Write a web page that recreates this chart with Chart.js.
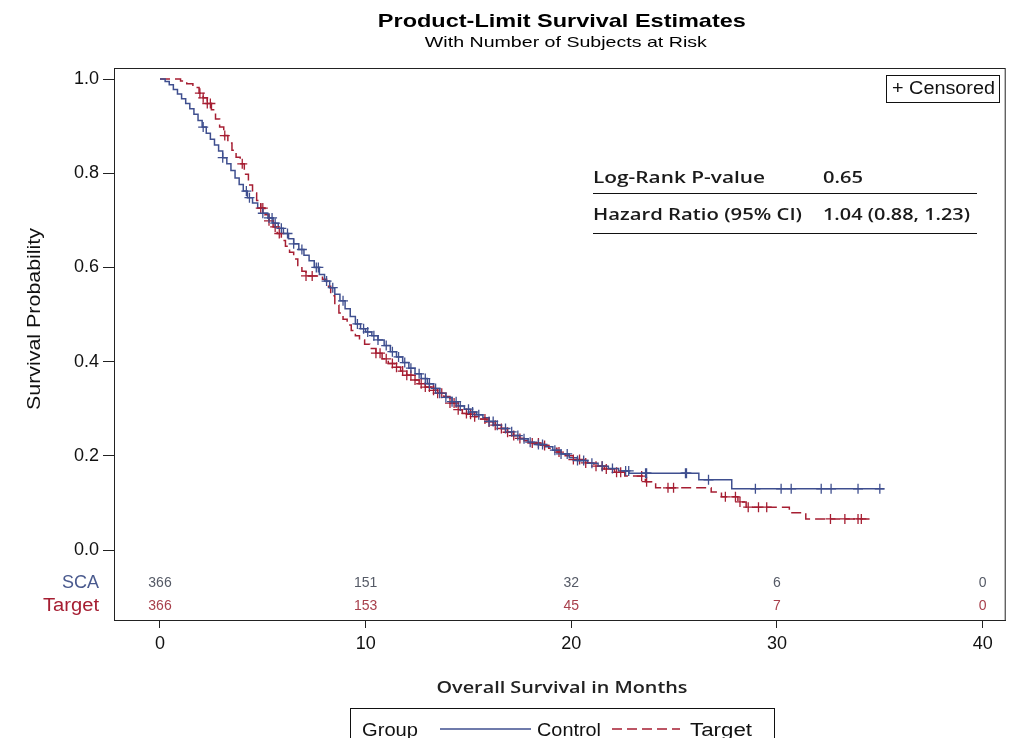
<!DOCTYPE html>
<html>
<head>
<meta charset="utf-8">
<script src="https://cdn.jsdelivr.net/npm/chart.js@4.4.1/dist/chart.umd.min.js"></script>
<style>
  html, body { margin: 0; padding: 0; background: #fff; }
</style>
</head>
<body>
<canvas id="km" width="1012" height="738"></canvas>
<script>
// Kaplan-Meier steps (months, survival)
const ctrlTime = [0, 0.25, 0.45, 0.65, 0.85, 1.05, 1.25, 1.45, 1.65, 1.85, 2.05, 2.25, 2.45, 2.65, 2.85, 3.05, 3.25, 3.45, 3.65, 3.85, 4.05, 4.25, 4.5, 4.75, 5.0, 5.25, 5.5, 5.75, 6.0, 6.25, 6.5, 6.75, 7.0, 7.25, 7.5, 7.75, 8.0, 8.25, 8.5, 8.75, 9.0, 9.25, 9.5, 9.75, 10.0, 10.3, 10.6, 10.9, 11.2, 11.5, 11.8, 12.1, 12.4, 12.7, 13.0, 13.3, 13.6, 13.9, 14.2, 14.5, 14.8, 15.1, 15.4, 15.7, 16.0, 16.3, 16.6, 16.9, 17.2, 17.5, 17.9, 18.3, 18.7, 19.1, 19.5, 19.9, 20.3, 20.8, 21.3, 21.8, 22.3, 22.8, 26.2, 27.8, 35.2];
const ctrlSurv = [1.0, 0.995, 0.988, 0.978, 0.968, 0.958, 0.948, 0.937, 0.925, 0.912, 0.898, 0.885, 0.872, 0.86, 0.847, 0.833, 0.82, 0.806, 0.79, 0.776, 0.762, 0.748, 0.737, 0.726, 0.715, 0.705, 0.694, 0.683, 0.672, 0.661, 0.65, 0.638, 0.626, 0.614, 0.60, 0.585, 0.571, 0.557, 0.543, 0.529, 0.512, 0.496, 0.48, 0.47, 0.463, 0.455, 0.446, 0.434, 0.421, 0.41, 0.398, 0.386, 0.374, 0.364, 0.353, 0.343, 0.333, 0.324, 0.315, 0.306, 0.299, 0.293, 0.287, 0.281, 0.273, 0.265, 0.258, 0.251, 0.243, 0.236, 0.229, 0.224, 0.219, 0.212, 0.204, 0.196, 0.19, 0.184, 0.178, 0.173, 0.168, 0.163, 0.149, 0.13, 0.13];

const tgtTime = [0, 1.0, 1.3, 1.6, 1.9, 2.1, 2.3, 2.5, 2.7, 2.9, 3.1, 3.3, 3.5, 3.7, 3.9, 4.1, 4.3, 4.5, 4.7, 4.9, 5.1, 5.3, 5.5, 5.7, 5.9, 6.1, 6.3, 6.5, 6.7, 6.9, 7.1, 7.9, 8.1, 8.3, 8.5, 8.7, 8.9, 9.1, 9.3, 9.5, 9.7, 9.95, 10.2, 10.5, 10.8, 11.1, 11.4, 11.7, 12.0, 12.3, 12.6, 12.9, 13.2, 13.5, 13.8, 14.1, 14.4, 14.7, 15.0, 15.3, 15.6, 15.9, 16.2, 16.5, 16.8, 17.1, 17.4, 17.7, 18.1, 18.5, 18.9, 19.3, 19.7, 20.1, 20.6, 21.1, 21.6, 22.1, 22.6, 23.6, 24.1, 26.8, 27.3, 28.1, 28.5, 30.6, 31.4, 34.5];
const tgtSurv = [1.0, 0.996, 0.99, 0.982, 0.97, 0.96, 0.948, 0.935, 0.915, 0.898, 0.88, 0.864, 0.849, 0.834, 0.82, 0.798, 0.775, 0.758, 0.742, 0.726, 0.712, 0.699, 0.686, 0.672, 0.657, 0.645, 0.632, 0.618, 0.604, 0.592, 0.582, 0.575, 0.56, 0.54, 0.52, 0.503, 0.49, 0.478, 0.466, 0.455, 0.446, 0.437, 0.428, 0.418, 0.406, 0.396, 0.388, 0.38, 0.371, 0.361, 0.353, 0.346, 0.339, 0.333, 0.326, 0.312, 0.298, 0.29, 0.288, 0.283, 0.278, 0.272, 0.265, 0.258, 0.25, 0.243, 0.237, 0.232, 0.227, 0.222, 0.216, 0.208, 0.2, 0.192, 0.185, 0.178, 0.172, 0.165, 0.157, 0.145, 0.132, 0.123, 0.113, 0.102, 0.091, 0.079, 0.066, 0.066];

// censoring times
const ctrlCens = [2.1, 3.05, 4.2, 4.35, 5.0, 5.3, 5.45, 5.6, 5.9, 6.2, 6.5, 6.9, 7.6, 7.7, 8.1, 8.4, 8.9, 9.6, 9.9, 10.1, 10.4, 10.6, 11.0, 11.3, 11.6, 11.9, 12.2, 12.6, 12.9, 13.1, 13.4, 13.6, 13.9, 14.2, 14.4, 14.6, 15.0, 15.2, 15.5, 16.0, 16.2, 16.4, 16.8, 17.1, 17.4, 17.7, 18.0, 18.4, 18.6, 19.2, 19.5, 19.8, 20.3, 20.6, 21.0, 21.5, 22.0, 22.64, 22.79, 23.61, 23.66, 25.55, 25.6, 26.67, 28.95, 30.2, 30.69, 32.15, 32.63, 33.94, 35.0];
const tgtCens = [1.94, 2.1, 2.3, 2.45, 3.15, 4.0, 4.9, 5.0, 5.3, 5.6, 5.8, 7.1, 7.4, 10.5, 10.7, 11.0, 11.3, 11.5, 11.8, 12.0, 12.2, 12.4, 12.7, 12.9, 13.1, 13.3, 13.5, 13.7, 14.1, 14.3, 14.5, 14.9, 15.1, 15.3, 15.8, 16.0, 16.3, 16.6, 16.9, 17.2, 17.5, 18.1, 18.4, 18.7, 19.4, 20.1, 20.4, 20.7, 21.2, 21.5, 21.7, 22.2, 22.4, 23.42, 23.66, 24.7, 24.97, 27.49, 27.98, 28.2, 28.6, 29.1, 29.5, 32.6, 33.3, 33.94, 34.1];

// number at risk
const riskTimes = [0, 10, 20, 30, 40];
const riskCtrl = [366, 151, 32, 6, 0];
const riskTgt = [366, 153, 45, 7, 0];

const xTicks = [0, 10, 20, 30, 40];
const yTicks = [0, 0.2, 0.4, 0.6, 0.8, 1.0];

const BLUE = '#3f4f8f';
const RED = '#a61e32';
const SANS = '"Liberation Sans", Arial, sans-serif';
const SANS2 = '"Open Sans", sans-serif';

function survAt(times, surv, t) {
    let s = surv[0];
    for (let i = 0; i < times.length; i++) {
        if (times[i] <= t) s = surv[i];
    }
    return s;
}

function pts(times, surv) {
    return times.map((t, i) => ({ x: t, y: surv[i] }));
}

function censPts(cens, times, surv) {
    return cens.map(t => ({ x: t, y: survAt(times, surv, t) }));
}

// text squeezed/stretched to a given width (reference text is wider than our fonts)
function wideText(ctx, str, x, y, w, align) {
    const m = ctx.measureText(str).width;
    const k = w / m;
    ctx.save();
    ctx.textAlign = 'left';
    let x0 = x;
    if (align === 'center') x0 = x - w / 2;
    if (align === 'right') x0 = x - w;
    ctx.translate(x0, y);
    ctx.scale(k, 1);
    ctx.fillText(str, 0, 0);
    ctx.restore();
}

// titles, frame, at-risk table, stats, legend
const decor = {
    id: 'decor',
    afterDraw(chart) {
        const ctx = chart.ctx;
        const a = chart.chartArea;
        const xs = chart.scales.x;
        const cx = (a.left + a.right) / 2;
        ctx.save();

        // frame
        ctx.strokeStyle = '#222';
        ctx.lineWidth = 1;
        ctx.strokeRect(a.left + 0.5, a.top + 0.5, a.right - a.left - 1, a.bottom - a.top);

        // titles
        ctx.fillStyle = '#000';
        ctx.textBaseline = 'alphabetic';
        ctx.font = 'bold 19px ' + SANS;
        wideText(ctx, 'Product-Limit Survival Estimates', cx + 2, 27, 368, 'center');
        ctx.font = '15px ' + SANS;
        wideText(ctx, 'With Number of Subjects at Risk', cx + 6, 47, 282, 'center');

        // y title
        ctx.save();
        ctx.translate(35, 319);
        ctx.rotate(-Math.PI / 2);
        ctx.font = '19px ' + SANS;
        ctx.textBaseline = 'middle';
        ctx.fillStyle = '#111';
        wideText(ctx, 'Survival Probability', 0, 0, 182, 'center');
        ctx.restore();

        // x title
        ctx.font = '600 17px ' + SANS2;
        ctx.textBaseline = 'middle';
        ctx.fillStyle = '#222';
        wideText(ctx, 'Overall Survival in Months', 562, 688, 251, 'center');

        // at-risk rows
        ctx.textAlign = 'center';
        ctx.font = '14px ' + SANS;
        riskTimes.forEach((t, i) => {
            const px = xs.getPixelForValue(t);
            ctx.fillStyle = '#555a66';
            ctx.fillText(String(riskCtrl[i]), px, a.bottom - 37);
            ctx.fillStyle = '#a8404c';
            ctx.fillText(String(riskTgt[i]), px, a.bottom - 14);
        });
        ctx.font = '18px ' + SANS;
        ctx.fillStyle = '#4a5a8e';
        wideText(ctx, 'SCA', 99, a.bottom - 37, 37, 'right');
        ctx.fillStyle = RED;
        wideText(ctx, 'Target', 99, a.bottom - 14, 56, 'right');

        // censored box
        ctx.strokeStyle = '#111';
        ctx.strokeRect(886.5, 75.5, 113, 27);
        ctx.fillStyle = '#111';
        ctx.font = '18px ' + SANS;
        wideText(ctx, '+ Censored', 892, 89, 103, 'left');

        // stats table
        ctx.font = '600 17px ' + SANS2;
        ctx.fillStyle = '#1a1a1a';
        wideText(ctx, 'Log-Rank P-value', 593, 178, 172, 'left');
        wideText(ctx, '0.65', 823, 178, 40, 'left');
        wideText(ctx, 'Hazard Ratio (95% CI)', 593, 215, 209, 'left');
        wideText(ctx, '1.04 (0.88, 1.23)', 823, 215, 147, 'left');
        ctx.strokeStyle = '#111';
        ctx.beginPath();
        ctx.moveTo(593, 193.5); ctx.lineTo(977, 193.5);
        ctx.moveTo(593, 233.5); ctx.lineTo(977, 233.5);
        ctx.stroke();

        // legend
        ctx.strokeStyle = '#111';
        ctx.strokeRect(350.5, 708.5, 424, 40);
        ctx.font = '18px ' + SANS;
        ctx.fillStyle = '#111';
        ctx.textBaseline = 'alphabetic';
        wideText(ctx, 'Group', 362, 736, 56, 'left');
        wideText(ctx, 'Control', 537, 736, 64, 'left');
        wideText(ctx, 'Target', 690, 736, 62, 'left');
        ctx.lineWidth = 1.5;
        ctx.strokeStyle = BLUE;
        ctx.beginPath();
        ctx.moveTo(440, 729); ctx.lineTo(531, 729);
        ctx.stroke();
        ctx.strokeStyle = RED;
        ctx.setLineDash([10, 5]);
        ctx.beginPath();
        ctx.moveTo(612, 729); ctx.lineTo(680, 729);
        ctx.stroke();
        ctx.restore();
    }
};

const ctx = document.getElementById('km').getContext('2d');
const chart = new Chart(ctx, {
    type: 'scatter',
    data: {
        datasets: [
            {
                label: 'Control censored',
                data: censPts(ctrlCens, ctrlTime, ctrlSurv),
                pointStyle: 'cross',
                pointRadius: 5,
                borderColor: BLUE,
                backgroundColor: BLUE,
                borderWidth: 1.3,
                order: 0
            },
            {
                label: 'Target censored',
                data: censPts(tgtCens, tgtTime, tgtSurv),
                pointStyle: 'cross',
                pointRadius: 5,
                borderColor: RED,
                backgroundColor: RED,
                borderWidth: 1.3,
                order: 0
            },
            {
                label: 'Control',
                data: pts(ctrlTime, ctrlSurv),
                showLine: true,
                stepped: true,
                borderColor: BLUE,
                borderWidth: 1.5,
                pointRadius: 0,
                order: 1
            },
            {
                label: 'Target',
                data: pts(tgtTime, tgtSurv),
                showLine: true,
                stepped: true,
                borderColor: RED,
                borderWidth: 1.5,
                borderDash: [10, 5],
                pointRadius: 0,
                order: 1
            }
        ]
    },
    options: {
        responsive: false,
        animation: false,
        layout: { padding: { top: 68, right: 6, bottom: 0, left: 0 } },
        plugins: {
            legend: { display: false },
            title: { display: false },
            tooltip: { enabled: false }
        },
        scales: {
            x: {
                type: 'linear',
                min: -2.236,
                max: 41.12,
                afterBuildTicks: s => { s.ticks = xTicks.map(v => ({ value: v })); },
                afterFit: s => { s.height = 118; },
                grid: { drawOnChartArea: false, drawTicks: true, tickLength: 8, color: '#222' },
                border: { display: true, color: '#222' },
                ticks: { color: '#111', font: { family: SANS, size: 18 }, padding: 5, maxRotation: 0 }
            },
            y: {
                type: 'linear',
                min: -0.1486,
                max: 1.0234,
                afterBuildTicks: s => { s.ticks = yTicks.map(v => ({ value: v })); },
                afterFit: s => { s.width = 114; },
                grid: { drawOnChartArea: false, drawTicks: true, tickLength: 11, color: '#222' },
                border: { display: true, color: '#222' },
                ticks: {
                    color: '#111',
                    font: { family: SANS, size: 18 },
                    padding: 4,
                    callback: v => v.toFixed(1)
                }
            }
        }
    },
    plugins: [decor]
});
</script>
</body>
</html>
